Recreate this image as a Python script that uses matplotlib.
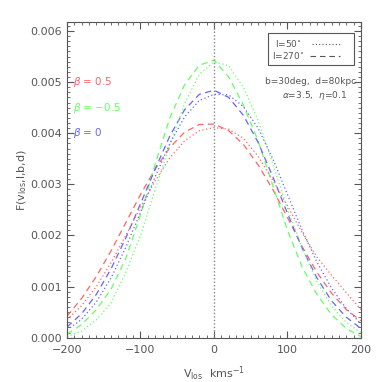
import numpy as np
import matplotlib
matplotlib.use("Agg")
import matplotlib.pyplot as plt
from matplotlib.ticker import MultipleLocator

# line-of-sight velocity grid (km/s)
v = [-200, -180, -160, -140, -120, -100, -80, -60, -40, -20, 0,
     20, 40, 60, 80, 100, 120, 140, 160, 180, 200]

# l = 270 (dashed)
red_270 = [0.00042, 0.00077, 0.00120, 0.00170, 0.00225, 0.00280, 0.00330, 0.00372, 0.00402, 0.00417, 0.00418,
           0.00405, 0.00378, 0.00338, 0.00290, 0.00235, 0.00178, 0.00128, 0.00087, 0.00055, 0.00033]
blue_270 = [0.00021, 0.00047, 0.00085, 0.00135, 0.00195, 0.00262, 0.00330, 0.00395, 0.00446, 0.00476, 0.00484,
            0.00470, 0.00435, 0.00382, 0.00315, 0.00243, 0.00175, 0.00117, 0.00072, 0.00040, 0.00018]
green_270 = [0.00007, 0.00026, 0.00055, 0.00095, 0.00155, 0.00240, 0.00340, 0.00430, 0.00495, 0.00533, 0.00543,
             0.00510, 0.00455, 0.00385, 0.00298, 0.00210, 0.00138, 0.00085, 0.00045, 0.00018, 0.00002]

# l = 50 (dotted)
red_50 = [0.00035, 0.00063, 0.00100, 0.00147, 0.00200, 0.00255, 0.00307, 0.00352, 0.00385, 0.00405, 0.00411,
          0.00408, 0.00390, 0.00355, 0.00308, 0.00258, 0.00205, 0.00158, 0.00122, 0.00088, 0.00055]
blue_50 = [0.00015, 0.00036, 0.00070, 0.00117, 0.00177, 0.00245, 0.00315, 0.00380, 0.00432, 0.00464, 0.00476,
           0.00475, 0.00452, 0.00410, 0.00350, 0.00280, 0.00210, 0.00148, 0.00097, 0.00057, 0.00027]
green_50 = [0.00002, 0.00013, 0.00035, 0.00068, 0.00128, 0.00200, 0.00290, 0.00378, 0.00458, 0.00515, 0.00540,
            0.00532, 0.00490, 0.00425, 0.00340, 0.00252, 0.00175, 0.00110, 0.00062, 0.00030, 0.00010]

red = '#ff6464'
green = '#64ff64'
blue = '#6464ff'
grey = '#555555'
dash = (0, (5, 3.5))
dot = (0, (1, 2))

fig = plt.figure(figsize=(3.82, 3.82), dpi=100)
ax = fig.add_axes([0.1754, 0.116, 0.7696, 0.827])

ax.plot(v, red_270, color=red, ls=dash, lw=0.9)
ax.plot(v, green_270, color=green, ls=dash, lw=0.9)
ax.plot(v, blue_270, color=blue, ls=dash, lw=0.9)
ax.plot(v, red_50, color=red, ls=dot, lw=0.9)
ax.plot(v, green_50, color=green, ls=dot, lw=0.9)
ax.plot(v, blue_50, color=blue, ls=dot, lw=0.9)

ax.axvline(0, color='#888888', ls=(0, (1, 1.5)), lw=1.0)

ax.set_xlim(-200, 200)
ax.set_ylim(0, 0.00618)
ax.xaxis.set_major_locator(MultipleLocator(100))
ax.xaxis.set_minor_locator(MultipleLocator(10))
ax.yaxis.set_major_locator(MultipleLocator(0.001))
ax.yaxis.set_minor_locator(MultipleLocator(0.0001))
ax.yaxis.set_major_formatter(plt.FuncFormatter(lambda y, p: '%.3f' % y))
ax.xaxis.set_major_formatter(plt.FuncFormatter(lambda x, p: ('%d' % x).replace('-', '\u2212')))
ax.tick_params(which='both', direction='in', top=True, right=True, colors=grey,
               labelsize=8, labelcolor=grey)
ax.tick_params(which='major', length=5, width=0.8)
ax.tick_params(which='minor', length=2.5, width=0.6)
ax.tick_params(axis='x', pad=5)
for s in ax.spines.values():
    s.set_color(grey)
    s.set_linewidth(0.8)

ax.set_xlabel('V$_{\\rm los}$  kms$^{-1}$', fontsize=8, color=grey, labelpad=7)
ax.set_ylabel('F(v$_{\\rm los}$,l,b,d)', fontsize=8, color=grey, labelpad=1)

ax.text(-192, 0.0050, '$\\beta$ = 0.5', color=red, fontsize=7.5, va='center')
ax.text(-192, 0.0045, '$\\beta$ = \u22120.5', color=green, fontsize=7.5, va='center')
ax.text(-192, 0.0040, '$\\beta$ = 0', color=blue, fontsize=7.5, va='center')

# legend box
ax.add_patch(plt.Rectangle((73, 0.00533), 117, 0.00063, fill=False, ec=grey, lw=0.8))
ax.text(101, 0.00575, 'l=50$^{\\circ}$', color=grey, fontsize=6.5, va='center', ha='center')
ax.text(101, 0.00552, 'l=270$^{\\circ}$', color=grey, fontsize=6.5, va='center', ha='center')
ax.plot([133, 172], [0.00574, 0.00574], color=grey, ls=(0, (1, 2)), lw=0.8)
ax.plot([130, 172], [0.00551, 0.00551], color=grey, ls=(0, (5, 3.5)), lw=0.8)

ax.text(132, 0.00502, 'b=30deg,  d=80kpc', color=grey, fontsize=6.5, ha='center', va='center')
ax.text(137, 0.00474, '$\\alpha$=3.5,  $\\eta$=0.1', color=grey, fontsize=6.5, ha='center', va='center')

fig.savefig('out.png', dpi=100)
